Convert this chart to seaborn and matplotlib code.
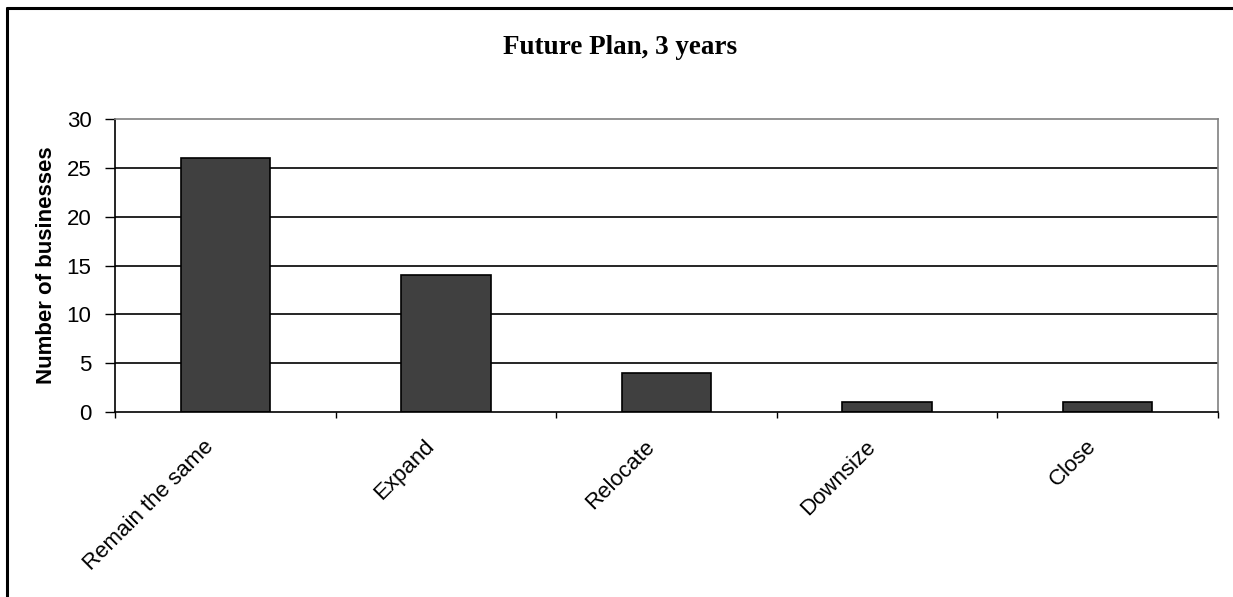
import matplotlib
matplotlib.use("Agg")
import matplotlib.pyplot as plt
import matplotlib.transforms as mtransforms
import seaborn as sns
import pandas as pd
from matplotlib.lines import Line2D

categories = ["Remain the same", "Expand", "Relocate", "Downsize", "Close"]
values = [26, 14, 4, 1, 1]
y_ticks = [0, 5, 10, 15, 20, 25, 30]

sns.set_theme(style="white")
plt.rcParams['font.family'] = ['Liberation Sans', 'DejaVu Sans']
plt.rcParams['text.color'] = 'black'
plt.rcParams['xtick.color'] = 'black'
plt.rcParams['ytick.color'] = 'black'
plt.rcParams['axes.labelcolor'] = 'black'

df = pd.DataFrame({"plan": categories, "count": values})

fig = plt.figure(figsize=(12.33, 5.97), dpi=100)
ax = fig.add_axes([115/1233, 1 - 412/597, (1218-115)/1233, (412-119)/597])

sns.barplot(data=df, x="plan", y="count", order=categories, color="#404040",
            edgecolor="black", linewidth=1.2, width=0.405, saturation=1, ax=ax)

ax.set_ylim(0, 30)
ax.set_xlim(-0.5, len(categories) - 0.5)
ax.set_yticks(y_ticks)
ax.set_yticklabels([str(t) for t in y_ticks], fontsize=16)
for t in y_ticks[1:-1]:
    ax.axhline(t, color="black", linewidth=1.2, zorder=0)

# x ticks at category boundaries, labels drawn at category centres
ax.set_xticks([i + 0.5 for i in range(-1, len(categories))])
ax.set_xticklabels([])
base = mtransforms.blended_transform_factory(ax.transData, ax.transAxes)
offset = mtransforms.ScaledTranslation(-22/100, -24/100, fig.dpi_scale_trans)
for i, cat in enumerate(categories):
    ax.text(i, 0, cat, transform=base + offset, rotation=45, ha="right", va="top",
            rotation_mode="anchor", fontsize=16, clip_on=False)
ax.tick_params(axis="x", direction="out", length=4, width=1, color="black", bottom=True)
ax.tick_params(axis="y", direction="out", length=7, width=1, color="black", left=True, pad=10)

ax.set_xlabel("")
ax.set_ylabel("Number of businesses", fontsize=16, fontweight="bold", labelpad=7)

for side in ["left", "bottom"]:
    ax.spines[side].set_color("black")
    ax.spines[side].set_linewidth(1.2)
for side in ["top", "right"]:
    ax.spines[side].set_color("#808080")
    ax.spines[side].set_linewidth(1.2)

fig.text(620/1233, 1 - 47/597, "Future Plan, 3 years", ha="center", va="center",
         fontsize=19.5, fontweight="bold", family=["Liberation Serif", "DejaVu Serif"])

# outer chart border (top and left visible)
fig.add_artist(Line2D([6.5/1233, 1], [1 - 7.5/597, 1 - 7.5/597], color="black", linewidth=2.2,
                      transform=fig.transFigure))
fig.add_artist(Line2D([6.5/1233, 6.5/1233], [0, 1 - 7.5/597], color="black", linewidth=2.2,
                      transform=fig.transFigure))

fig.savefig("out.png", dpi=100, facecolor="white")
